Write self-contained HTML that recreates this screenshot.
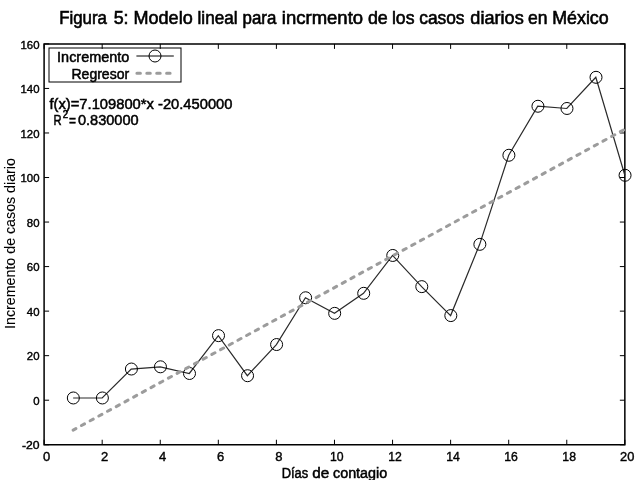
<!DOCTYPE html>
<html><head><meta charset="utf-8"><style>
html,body{margin:0;padding:0;background:#fff;width:640px;height:480px;overflow:hidden}
svg{display:block;will-change:transform}
text{font-family:"Liberation Sans",sans-serif;fill:#000;stroke:#000;stroke-width:0.4px}
.yt{font-size:11.4px}
.xt{font-size:13px}
.lg{font-size:14px;stroke-width:0.5px}
.sup{font-size:10px}
.ti{font-size:17.8px;stroke-width:0.6px}
</style></head><body>
<svg width="640" height="480" viewBox="0 0 640 480">
<path d="M44.1,43.9 H624.85 V444.75 H44.1 Z" fill="none" stroke="#000" stroke-width="1.5"/>
<path d="M44.10,444.75 v-5 M44.10,43.9 v5" stroke="#000" stroke-width="1"/>
<path d="M102.18,444.75 v-5 M102.18,43.9 v5" stroke="#000" stroke-width="1"/>
<path d="M160.25,444.75 v-5 M160.25,43.9 v5" stroke="#000" stroke-width="1"/>
<path d="M218.32,444.75 v-5 M218.32,43.9 v5" stroke="#000" stroke-width="1"/>
<path d="M276.40,444.75 v-5 M276.40,43.9 v5" stroke="#000" stroke-width="1"/>
<path d="M334.48,444.75 v-5 M334.48,43.9 v5" stroke="#000" stroke-width="1"/>
<path d="M392.55,444.75 v-5 M392.55,43.9 v5" stroke="#000" stroke-width="1"/>
<path d="M450.62,444.75 v-5 M450.62,43.9 v5" stroke="#000" stroke-width="1"/>
<path d="M508.70,444.75 v-5 M508.70,43.9 v5" stroke="#000" stroke-width="1"/>
<path d="M566.77,444.75 v-5 M566.77,43.9 v5" stroke="#000" stroke-width="1"/>
<path d="M624.85,444.75 v-5 M624.85,43.9 v5" stroke="#000" stroke-width="1"/>
<path d="M44.1,444.75 h5 M624.85,444.75 h-5" stroke="#000" stroke-width="1"/>
<path d="M44.1,400.21 h5 M624.85,400.21 h-5" stroke="#000" stroke-width="1"/>
<path d="M44.1,355.67 h5 M624.85,355.67 h-5" stroke="#000" stroke-width="1"/>
<path d="M44.1,311.13 h5 M624.85,311.13 h-5" stroke="#000" stroke-width="1"/>
<path d="M44.1,266.59 h5 M624.85,266.59 h-5" stroke="#000" stroke-width="1"/>
<path d="M44.1,222.06 h5 M624.85,222.06 h-5" stroke="#000" stroke-width="1"/>
<path d="M44.1,177.52 h5 M624.85,177.52 h-5" stroke="#000" stroke-width="1"/>
<path d="M44.1,132.98 h5 M624.85,132.98 h-5" stroke="#000" stroke-width="1"/>
<path d="M44.1,88.44 h5 M624.85,88.44 h-5" stroke="#000" stroke-width="1"/>
<path d="M44.1,43.90 h5 M624.85,43.90 h-5" stroke="#000" stroke-width="1"/>
<text x="46.50" y="460.6" class="xt" text-anchor="middle">0</text>
<text x="104.58" y="460.6" class="xt" text-anchor="middle">2</text>
<text x="162.65" y="460.6" class="xt" text-anchor="middle">4</text>
<text x="220.72" y="460.6" class="xt" text-anchor="middle">6</text>
<text x="278.80" y="460.6" class="xt" text-anchor="middle">8</text>
<text x="336.88" y="460.6" class="xt" text-anchor="middle" textLength="13.6" lengthAdjust="spacingAndGlyphs">10</text>
<text x="394.95" y="460.6" class="xt" text-anchor="middle" textLength="13.6" lengthAdjust="spacingAndGlyphs">12</text>
<text x="453.02" y="460.6" class="xt" text-anchor="middle" textLength="13.6" lengthAdjust="spacingAndGlyphs">14</text>
<text x="511.10" y="460.6" class="xt" text-anchor="middle" textLength="13.6" lengthAdjust="spacingAndGlyphs">16</text>
<text x="569.17" y="460.6" class="xt" text-anchor="middle" textLength="13.6" lengthAdjust="spacingAndGlyphs">18</text>
<text x="627.25" y="460.6" class="xt" text-anchor="middle" textLength="14.3" lengthAdjust="spacingAndGlyphs">20</text>
<text x="39.5" y="449.45" class="yt" text-anchor="end" textLength="17.6" lengthAdjust="spacingAndGlyphs">-20</text>
<text x="39.5" y="404.91" class="yt" text-anchor="end">0</text>
<text x="39.5" y="360.37" class="yt" text-anchor="end">20</text>
<text x="39.5" y="315.83" class="yt" text-anchor="end">40</text>
<text x="39.5" y="271.29" class="yt" text-anchor="end">60</text>
<text x="39.5" y="226.76" class="yt" text-anchor="end">80</text>
<text x="39.5" y="182.22" class="yt" text-anchor="end">100</text>
<text x="39.5" y="137.68" class="yt" text-anchor="end">120</text>
<text x="39.5" y="93.14" class="yt" text-anchor="end">140</text>
<text x="39.5" y="48.60" class="yt" text-anchor="end">160</text>
<rect x="49" y="48" width="132" height="34" fill="none" stroke="#000" stroke-width="1"/>
<text x="129.3" y="61.7" class="lg" text-anchor="end" textLength="72.2" lengthAdjust="spacingAndGlyphs">Incremento</text>
<text x="129.1" y="78.5" class="lg" text-anchor="end" textLength="57.6" lengthAdjust="spacingAndGlyphs">Regresor</text>
<path d="M136.4,56 H173.8" stroke="#000" stroke-width="1"/>
<circle cx="155" cy="56" r="6" fill="none" stroke="#000" stroke-width="1"/>
<path d="M136.9,73.2 H170.2" stroke="#9c9c9c" stroke-width="3" stroke-dasharray="3.5 6.4" stroke-linecap="round"/>
<polyline points="73.14,397.98 102.18,397.98 131.21,369.03 160.25,366.81 189.29,373.49 218.32,335.63 247.36,375.71 276.40,344.54 305.44,297.77 334.48,313.36 363.51,293.32 392.55,255.46 421.59,286.64 450.62,315.59 479.66,244.32 508.70,155.25 537.74,106.25 566.77,108.48 595.81,77.30 624.85,175.29" fill="none" stroke="#2a2a2a" stroke-width="1.2"/>
<circle cx="73.34" cy="397.98" r="6" fill="none" stroke="#000" stroke-width="1"/>
<circle cx="102.38" cy="397.98" r="6" fill="none" stroke="#000" stroke-width="1"/>
<circle cx="131.41" cy="369.03" r="6" fill="none" stroke="#000" stroke-width="1"/>
<circle cx="160.45" cy="366.81" r="6" fill="none" stroke="#000" stroke-width="1"/>
<circle cx="189.49" cy="373.49" r="6" fill="none" stroke="#000" stroke-width="1"/>
<circle cx="218.52" cy="335.63" r="6" fill="none" stroke="#000" stroke-width="1"/>
<circle cx="247.56" cy="375.71" r="6" fill="none" stroke="#000" stroke-width="1"/>
<circle cx="276.60" cy="344.54" r="6" fill="none" stroke="#000" stroke-width="1"/>
<circle cx="305.64" cy="297.77" r="6" fill="none" stroke="#000" stroke-width="1"/>
<circle cx="334.68" cy="313.36" r="6" fill="none" stroke="#000" stroke-width="1"/>
<circle cx="363.71" cy="293.32" r="6" fill="none" stroke="#000" stroke-width="1"/>
<circle cx="392.75" cy="255.46" r="6" fill="none" stroke="#000" stroke-width="1"/>
<circle cx="421.79" cy="286.64" r="6" fill="none" stroke="#000" stroke-width="1"/>
<circle cx="450.82" cy="315.59" r="6" fill="none" stroke="#000" stroke-width="1"/>
<circle cx="479.86" cy="244.32" r="6" fill="none" stroke="#000" stroke-width="1"/>
<circle cx="508.90" cy="155.25" r="6" fill="none" stroke="#000" stroke-width="1"/>
<circle cx="537.94" cy="106.25" r="6" fill="none" stroke="#000" stroke-width="1"/>
<circle cx="566.98" cy="108.48" r="6" fill="none" stroke="#000" stroke-width="1"/>
<circle cx="596.01" cy="77.30" r="6" fill="none" stroke="#000" stroke-width="1"/>
<circle cx="625.05" cy="175.29" r="6" fill="none" stroke="#000" stroke-width="1"/>
<path d="M73.14,430.07 L624.85,129.24" stroke="#9c9c9c" stroke-width="3" stroke-dasharray="3.5 6.4" stroke-dashoffset="0.4" stroke-linecap="round" fill="none"/>
<text x="49.5" y="108.7" class="lg" textLength="183" lengthAdjust="spacingAndGlyphs">f(x)=7.109800*x -20.450000</text>
<text x="53.50" y="124.7" style="font-size:14px;stroke-width:0.5px" textLength="8.09" lengthAdjust="spacingAndGlyphs">R</text>
<text x="62.77" y="117.8" style="font-size:10.2px;stroke-width:0.55px" textLength="5.31" lengthAdjust="spacingAndGlyphs">2</text>
<text x="68.98" y="126.2" style="font-size:14px;stroke-width:0.5px" textLength="6.98" lengthAdjust="spacingAndGlyphs">=</text>
<text x="77.94" y="124.7" style="font-size:14px;stroke-width:0.5px" textLength="60.74" lengthAdjust="spacingAndGlyphs">0.830000</text>
<text x="59.24" y="23.7" class="ti" textLength="47.68" lengthAdjust="spacingAndGlyphs">Figura</text>
<text x="113.67" y="23.7" class="ti" textLength="14.87" lengthAdjust="spacingAndGlyphs">5:</text>
<text x="133.56" y="23.7" class="ti" textLength="59.14" lengthAdjust="spacingAndGlyphs">Modelo</text>
<text x="197.56" y="23.7" class="ti" textLength="39.94" lengthAdjust="spacingAndGlyphs">lineal</text>
<text x="242.57" y="23.7" class="ti" textLength="33.79" lengthAdjust="spacingAndGlyphs">para</text>
<text x="281.89" y="23.7" class="ti" textLength="81.22" lengthAdjust="spacingAndGlyphs">incrmento</text>
<text x="367.90" y="23.7" class="ti" textLength="19.85" lengthAdjust="spacingAndGlyphs">de</text>
<text x="391.93" y="23.7" class="ti" textLength="22.54" lengthAdjust="spacingAndGlyphs">los</text>
<text x="419.21" y="23.7" class="ti" textLength="45.35" lengthAdjust="spacingAndGlyphs">casos</text>
<text x="470.39" y="23.7" class="ti" textLength="53.37" lengthAdjust="spacingAndGlyphs">diarios</text>
<text x="527.91" y="23.7" class="ti" textLength="19.48" lengthAdjust="spacingAndGlyphs">en</text>
<text x="552.27" y="23.7" class="ti" textLength="56.42" lengthAdjust="spacingAndGlyphs">México</text>
<text x="281.7" y="477.6" class="lg" textLength="26.5" lengthAdjust="spacingAndGlyphs">Días</text>
<text x="312.3" y="477.6" class="lg" textLength="17" lengthAdjust="spacingAndGlyphs">de</text>
<text x="333.0" y="477.6" class="lg" textLength="54.2" lengthAdjust="spacingAndGlyphs">contagio</text>
<text transform="translate(15,328.9) rotate(-90)" class="lg" style="stroke-width:0.1px" textLength="170.8" lengthAdjust="spacingAndGlyphs">Incremento de casos diario</text>
</svg>
</body></html>
